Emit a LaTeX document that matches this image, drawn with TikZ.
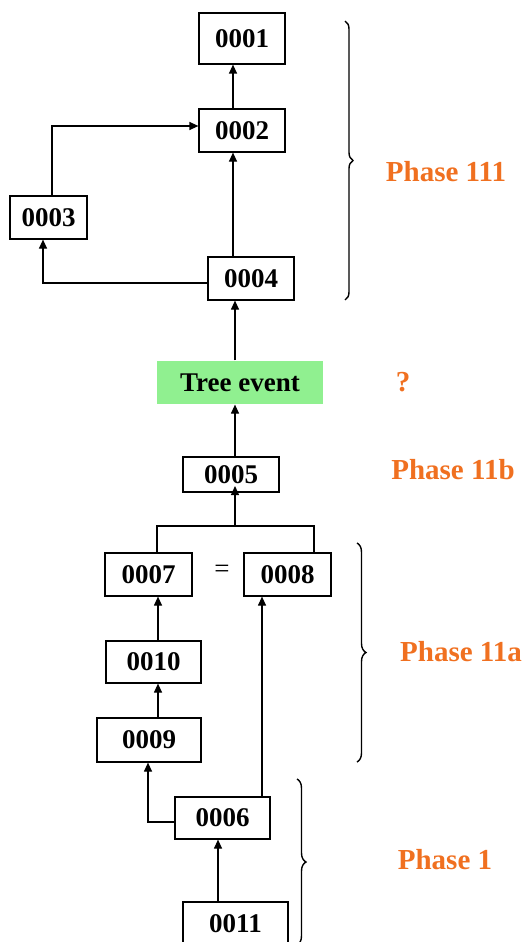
\documentclass[tikz,border=0pt]{standalone}
\usepackage{fontspec}
\setmainfont{Liberation Serif}
\usetikzlibrary{arrows.meta,decorations.pathreplacing}
\definecolor{phaseorange}{RGB}{240,112,32}
\definecolor{treegreen}{RGB}{144,240,144}
\begin{document}
\begin{tikzpicture}[x=1pt,y=-1pt,
  box/.style={draw, line width=1.2pt, inner sep=0pt, font=\fontsize{27}{30}\selectfont\bfseries},
  arr/.style={line width=1.2pt, -{Triangle[length=9pt,width=8pt]}},
  ln/.style={line width=1.2pt},
  phase/.style={text=phaseorange, font=\fontsize{29}{32}\selectfont\bfseries, inner sep=0pt},
  br/.style={line width=1.4pt, decorate, decoration={brace, amplitude=#1}}
]
\useasboundingbox (0,0) rectangle (528,942);
\clip (0,0) rectangle (528,942);

% boxes
\node[box, minimum width=86pt, minimum height=51pt] (n1) at (242,38.5) {0001};
\node[box, minimum width=86pt, minimum height=43pt] (n2) at (242,130.5) {0002};
\node[box, minimum width=77pt, minimum height=43pt] (n3) at (48.5,217.5) {0003};
\node[box, minimum width=86pt, minimum height=43pt] (n4) at (251,278.5) {0004};
\node[box, draw=none, fill=treegreen, minimum width=166pt, minimum height=43pt] (tree) at (240,382.5) {Tree event};
\node[box, minimum width=96pt, minimum height=35pt] (n5) at (231,474.5) {0005};
\node[box, minimum width=87pt, minimum height=43pt] (n7) at (148.5,574.5) {0007};
\node[box, minimum width=87pt, minimum height=43pt] (n8) at (287.5,574.5) {0008};
\node[font=\fontsize{27}{30}\selectfont, inner sep=0pt] (eq) at (222,571) {=};
\node[box, minimum width=95pt, minimum height=42pt] (n10) at (153.5,662) {0010};
\node[box, minimum width=104pt, minimum height=44pt] (n9) at (149,740) {0009};
\node[box, minimum width=95pt, minimum height=42pt] (n6) at (222.5,818) {0006};
\node[box, minimum width=105pt, minimum height=43pt] (n11) at (235.5,923.5) {0011};

% guide coordinates
\coordinate (xa) at (233,0);
\coordinate (xb) at (235,0);
\coordinate (j3) at (52,126);
\coordinate (j4) at (43,283);
\coordinate (jl) at (157,526);
\coordinate (jm) at (235,526);
\coordinate (jr) at (314,526);
\coordinate (t5) at (235,486);
\coordinate (xc) at (158,0);
\coordinate (j6) at (148,822);
\coordinate (xd) at (262,0);
\coordinate (xe) at (218,0);

% connectors
\draw[arr] (n2.north -| xa) -- (n1.south -| xa);
\draw[arr] (n4.north -| xa) -- (n2.south -| xa);
\draw[arr] (n3.north -| j3) |- (n2.west |- j3);
\draw[arr] (n4.west |- j4) -| (n3.south -| j4);
\draw[arr] (tree.north -| xb) -- (n4.south -| xb);
\draw[arr] (n5.north -| xb) -- (tree.south -| xb);
\draw[ln] (n7.north -| jl) |- (jr) -- (n8.north -| jr);
\draw[arr] (jm) -- (t5);
\draw[arr] (n10.north -| xc) -- (n7.south -| xc);
\draw[arr] (n9.north -| xc) -- (n10.south -| xc);
\draw[arr] (n6.west |- j6) -| (n9.south -| j6);
\draw[arr] (n6.north -| xd) -- (n8.south -| xd);
\draw[arr] (n11.north -| xe) -- (n6.south -| xe);

% braces
\draw[br=8pt] (345,21) -- (345,300);
\draw[br=9pt] (357,543) -- (357,762);
\draw[br=9pt] (297,779) -- (297,945);

% labels
\node[phase] (p111) at (446,172) {Phase 111};
\node[phase] (pq) at (403,382) {?};
\node[phase] (p11b) at (453,470) {Phase 11b};
\node[phase] (p11a) at (461,652) {Phase 11a};
\node[phase] (p1) at (445,860) {Phase 1};
\end{tikzpicture}
\end{document}
